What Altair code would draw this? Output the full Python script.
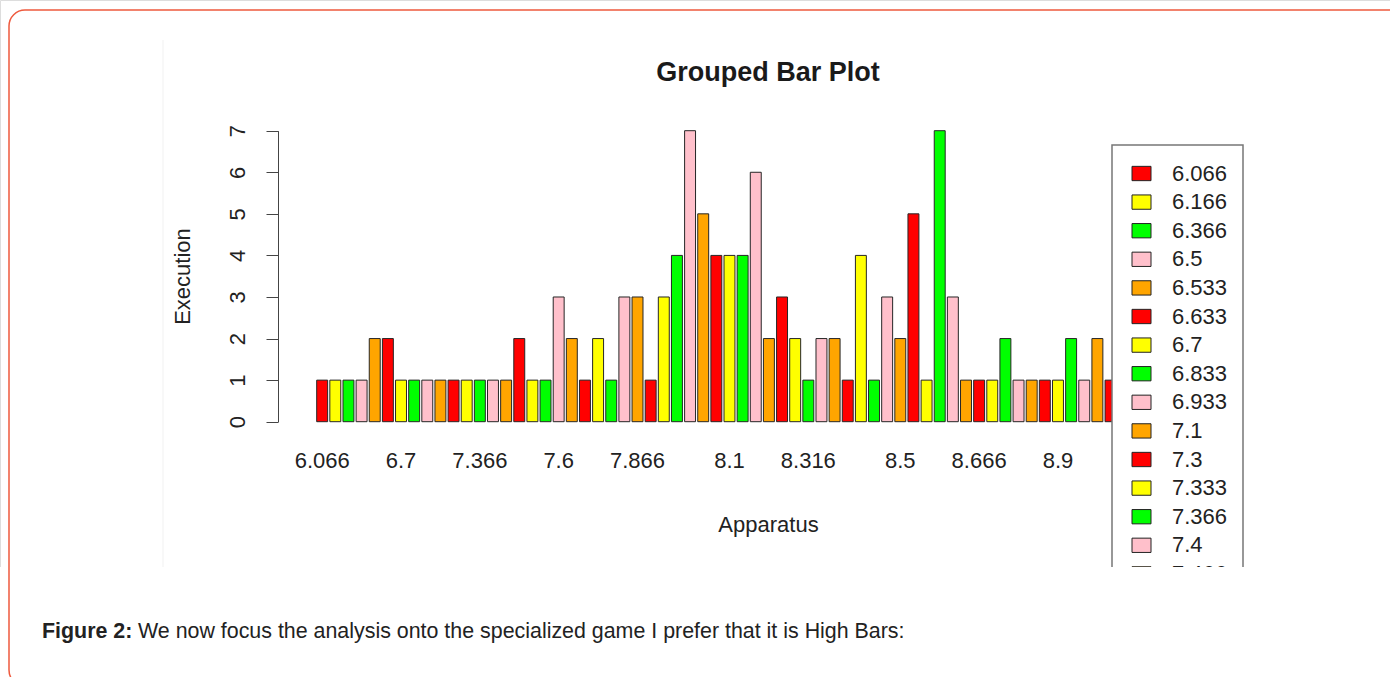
import altair as alt
import pandas as pd

FONT = "Liberation Sans"
W, H = 1390, 677

# Apparatus score levels (factor levels, in order) and their execution counts
apparatus = [
    "6.066", "6.166", "6.366", "6.5", "6.533", "6.633", "6.7", "6.833", "6.933", "7.1",
    "7.3", "7.333", "7.366", "7.4", "7.466", "7.5", "7.533", "7.566", "7.6", "7.633",
    "7.666", "7.733", "7.766", "7.833", "7.866", "7.9", "7.933", "7.966", "8", "8.033",
    "8.066", "8.1", "8.133", "8.166", "8.2", "8.233", "8.266", "8.316", "8.333", "8.366",
    "8.4", "8.416", "8.433", "8.466", "8.5", "8.533", "8.566", "8.6", "8.616", "8.633",
    "8.666", "8.7", "8.733", "8.766", "8.8", "8.833", "8.9", "8.933", "8.966", "9",
    "9.033",
]
execution = [
    1, 1, 1, 1, 2, 2, 1, 1, 1, 1,
    1, 1, 1, 1, 1, 2, 1, 1, 3, 2,
    1, 2, 1, 3, 3, 1, 3, 4, 7, 5,
    4, 4, 4, 6, 2, 3, 2, 1, 2, 2,
    1, 4, 1, 3, 2, 5, 1, 7, 3, 1,
    1, 1, 2, 1, 1, 1, 1, 2, 1, 2,
    1,
]
# labels that fit under the bars without overlapping
tick_labels = ["6.066", "6.7", "7.366", "7.6", "7.866", "8.1", "8.316", "8.5", "8.666", "8.9"]
y_ticks = [0, 1, 2, 3, 4, 5, 6, 7]

# barplot colour cycle
palette = ["#FF0000", "#FFFF00", "#00FF00", "#FFC0CB", "#FFA500"]

plot_title = "Grouped Bar Plot"
caption_bold = "Figure 2:"
caption_text = "We now focus the analysis onto the specialized game I prefer that it is High Bars:"

colours = [palette[i % len(palette)] for i in range(len(apparatus))]
bars_df = pd.DataFrame({"Apparatus": apparatus, "Execution": execution, "colour": colours})
legend_df = pd.DataFrame({"Apparatus": apparatus, "colour": colours, "slot": list(range(len(apparatus)))})

x_scale = alt.Scale(domain=apparatus, range=[316.7, 1116.0], paddingInner=1 / 6, paddingOuter=0)
y_scale = alt.Scale(domain=[0, 7], range=[421.7, 130.7], nice=False, zero=True)
legend_scale = alt.Scale(domain=[0, 1], range=[173.5, 202.1], nice=False, zero=False)

one = pd.DataFrame({"k": [0]})

frame_line = alt.Chart(one).mark_rule(color="#f1f1f1", strokeWidth=1).encode(
    x=alt.value(163), y=alt.value(40), y2=alt.value(567)
)

bars = alt.Chart(bars_df).mark_bar(stroke="#262626", strokeWidth=1).encode(
    x=alt.X(
        "Apparatus:N",
        scale=x_scale,
        sort=None,
        axis=alt.Axis(
            values=tick_labels,
            title="Apparatus",
            ticks=False,
            tickSize=0,
            domain=False,
            grid=False,
            labelAngle=0,
            labelFont=FONT,
            labelFontSize=22,
            labelColor="#222222",
            labelBaseline="middle",
            labelPadding=39,
            labelOverlap=False,
            offset=-(H - 421.7),
            titleFont=FONT,
            titleFontSize=22,
            titleFontWeight="normal",
            titleColor="#222222",
            titleX=768,
            titleY=103,
            titleAlign="center",
            titleBaseline="middle",
        ),
    ),
    y=alt.Y(
        "Execution:Q",
        scale=y_scale,
        axis=alt.Axis(
            values=y_ticks,
            title="Execution",
            grid=False,
            tickSize=12,
            tickColor="#444444",
            tickWidth=1,
            domainColor="#444444",
            domainWidth=1,
            labelAngle=270,
            labelAlign="center",
            labelBaseline="alphabetic",
            labelPadding=22,
            labelFont=FONT,
            labelFontSize=22,
            labelColor="#222222",
            offset=-278,
            titleFont=FONT,
            titleFontSize=22,
            titleFontWeight="normal",
            titleColor="#222222",
            titleAngle=270,
            titleX=-96,
            titleY=276,
            titleAlign="center",
            titleBaseline="middle",
        ),
    ),
    color=alt.Color("colour:N", scale=None),
)

title = alt.Chart(pd.DataFrame({"t": [plot_title]})).mark_text(
    font=FONT, fontSize=27, fontWeight="bold", color="#1a1a1a", align="center", baseline="middle"
).encode(x=alt.value(768), y=alt.value(73), text="t:N")

legend_box = alt.Chart(one).mark_rect(fill="white", stroke="#777777", strokeWidth=1.5).encode(
    x=alt.value(1112), x2=alt.value(1243), y=alt.value(145), y2=alt.value(700)
)

legend_keys = alt.Chart(legend_df).transform_calculate(
    top="datum.slot - 0.25", bottom="datum.slot + 0.25"
).mark_rect(stroke="#222222", strokeWidth=1).encode(
    x=alt.value(1132),
    x2=alt.value(1151),
    y=alt.Y("top:Q", scale=legend_scale, axis=None),
    y2="bottom:Q",
    color=alt.Color("colour:N", scale=None),
)

legend_labels = alt.Chart(legend_df).mark_text(
    font=FONT, fontSize=22, color="#222222", align="left", baseline="middle"
).encode(
    x=alt.value(1172),
    y=alt.Y("slot:Q", scale=legend_scale, axis=None),
    text="Apparatus:N",
)

# the figure image ends here; anything below is page background
cover = alt.Chart(one).mark_rect(fill="white").encode(
    x=alt.value(0), x2=alt.value(W), y=alt.value(567), y2=alt.value(H)
)

cap_bold = alt.Chart(pd.DataFrame({"t": [caption_bold]})).mark_text(
    font=FONT, fontSize=21.4, fontWeight="bold", color="#222222", align="left", baseline="middle"
).encode(x=alt.value(42), y=alt.value(632), text="t:N")

cap_text = alt.Chart(pd.DataFrame({"t": [caption_text]})).mark_text(
    font=FONT, fontSize=21.4, color="#222222", align="left", baseline="middle"
).encode(x=alt.value(138), y=alt.value(632), text="t:N")

border = alt.Chart(one).mark_rect(
    fill="transparent", stroke="#EE5A3E", strokeWidth=1.5, cornerRadius=16
).encode(x=alt.value(9), x2=alt.value(1430), y=alt.value(10), y2=alt.value(686))

chart = (
    alt.layer(
        frame_line, bars, title, legend_box, legend_keys, legend_labels,
        cover, cap_bold, cap_text, border,
    )
    .resolve_scale(y="independent")
    .properties(width=W, height=H, autosize="none", padding=0, background="white")
    .configure_view(stroke=None)
    .configure(font=FONT)
)

chart.save("out.html", embed_options={"renderer": "svg", "actions": False})
